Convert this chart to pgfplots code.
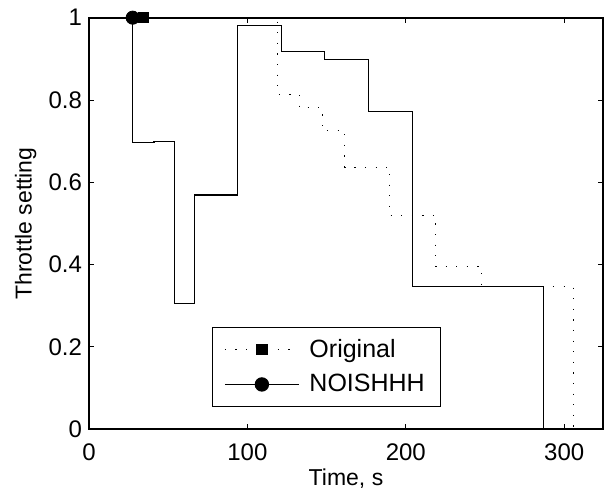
\documentclass[border=0pt]{standalone}
\usepackage{pgfplots}
\pgfplotsset{compat=1.18}
\usepackage{fontspec}
\setmainfont{Liberation Sans}
\begin{document}
\begin{tikzpicture}
\useasboundingbox (-44.5pt,-30.35pt) rectangle (257.5pt,214.65pt);
\begin{axis}[
  at={(0pt,0pt)}, anchor=south west,
  scale only axis,
  width=257pt, height=205.8pt,
  xmin=0, xmax=324.5, ymin=0, ymax=1,
  xtick={0,100,200,300},
  ytick={0,0.2,0.4,0.6,0.8,1},
  yticklabels={0,0.2,0.4,0.6,0.8,1},
  xticklabels={0,100,200,300},
  tick align=inside,
  xtick pos=both, ytick pos=both,
  major tick length=2.5pt,
  axis line style={line width=0.85pt},
  every tick/.style={black, line width=0.5pt},
  tick label style={font=\fontsize{12}{14}\selectfont},
  xticklabel style={yshift=-3.5pt},
  xlabel={Time, s},
  ylabel={Throttle setting},
  every axis x label/.style={at={(axis description cs:0.5,-0.1375)}, anchor=base, font=\fontsize{11.5}{13}\selectfont},
  every axis y label/.style={at={(axis description cs:-0.1117,0.5)}, anchor=base, rotate=90, font=\fontsize{11.5}{13}\selectfont},
  legend image code/.code={\draw[mark repeat=2,mark phase=2,#1] plot coordinates {(0pt,0pt) (18.5pt,0pt) (37pt,0pt)};},
  legend style={at={(0.2387,0.0535)}, anchor=south west, draw=black, line width=0.6pt,
    font=\fontsize{12.5}{15}\selectfont, inner xsep=6pt, inner ysep=4pt,
    row sep=3pt,
    /tikz/every odd column/.append style={column sep=3pt}},
  legend cell align=left,
]
\addlegendimage{black, line width=0.5pt, dash pattern=on 0.6pt off 4.7pt, mark=square*, mark size=2.6pt, mark options={solid}}
\addlegendentry{Original}
\addlegendimage{black, line width=0.6pt, solid, mark=*, mark size=3.3pt}
\addlegendentry{NOISHHH}
\addplot[const plot, black, line width=0.5pt, dash pattern=on 0.6pt off 4.7pt, forget plot] coordinates {
(34.3,1) (118.8,0.814) (132.7,0.781) (147.2,0.725) (161.5,0.637) (189.9,0.519) (218.9,0.395) (247.8,0.347) (305.6,0)
};
\addplot[const plot, black, line width=0.6pt, forget plot] coordinates {
(27.6,1) (27.6,0.696) (41,0.700) (53.8,0.305) (66.7,0.569) (94,0.981) (121.6,0.917) (148.9,0.899) (176.7,0.772) (204.2,0.346) (286.7,0)
};
\addplot[only marks, mark=square*, mark size=2.6pt, black, forget plot] coordinates {(34.3,1)};
\addplot[only marks, mark=*, mark size=3.3pt, black, forget plot] coordinates {(27.6,1)};
\end{axis}
\end{tikzpicture}
\end{document}
